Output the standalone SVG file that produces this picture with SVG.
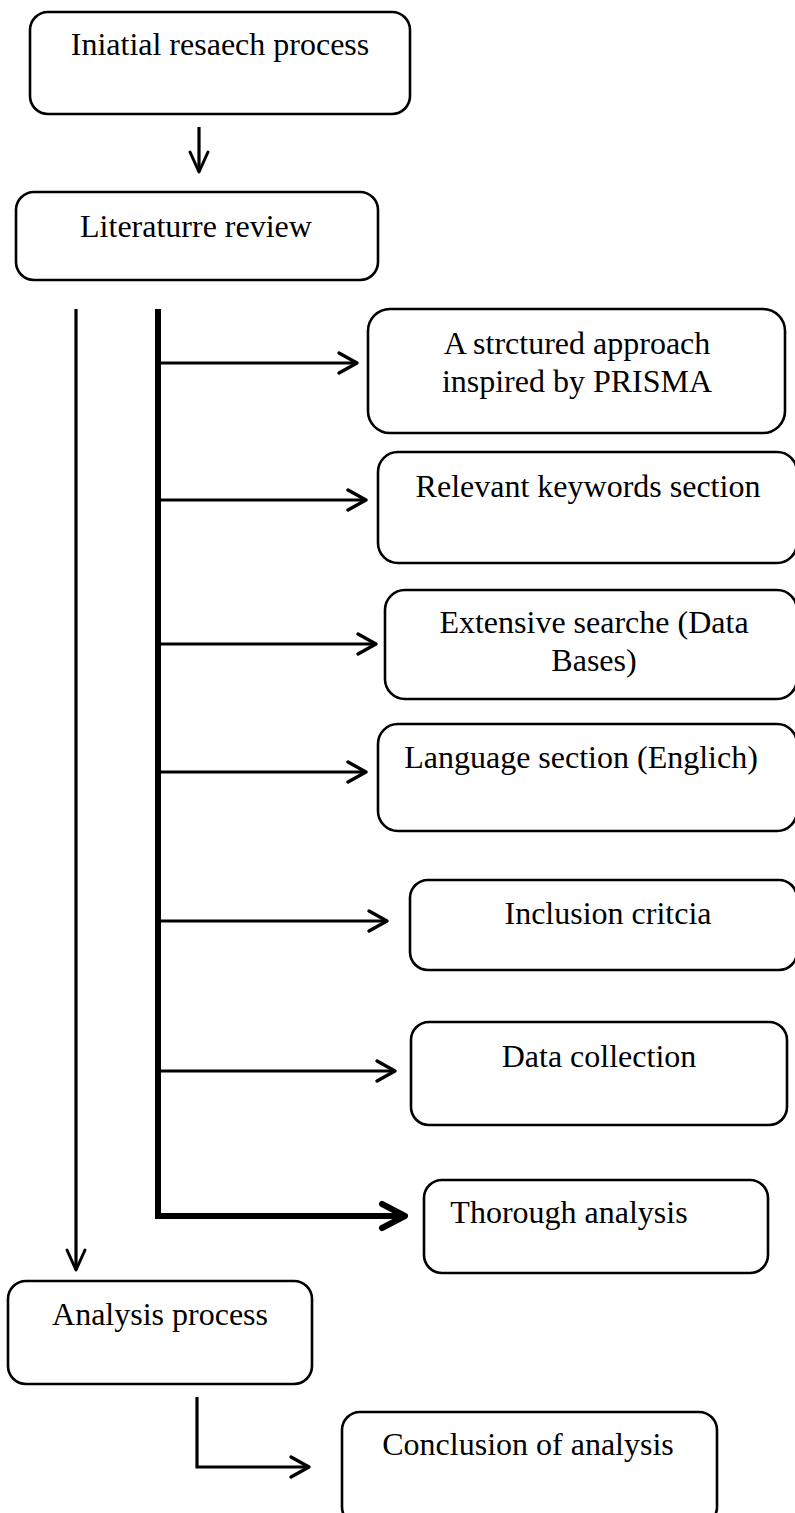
<svg xmlns="http://www.w3.org/2000/svg" width="795" height="1513" viewBox="0 0 795 1513">
<style>
.box{fill:#fff;stroke:#000;stroke-width:2.6}
.lbl{font-family:"Liberation Serif","Times New Roman",serif;font-size:32px;fill:#000;text-anchor:middle}
.ln{fill:none;stroke:#000;stroke-width:3.2}
.thick{fill:none;stroke:#000;stroke-width:6}
</style>
<defs>
<marker id="arr" markerUnits="userSpaceOnUse" viewBox="-24 -14 28 28" markerWidth="28" markerHeight="28" refX="0" refY="0" orient="auto" overflow="visible">
<path d="M-18,-10 L0,0 L-18,10" fill="none" stroke="#000" stroke-width="3.4" stroke-linecap="round" stroke-linejoin="round"/>
</marker>
<marker id="arrV" markerUnits="userSpaceOnUse" viewBox="-24 -14 28 28" markerWidth="28" markerHeight="28" refX="0" refY="0" orient="auto" overflow="visible">
<path d="M-20,-9 L0,0 L-20,9" fill="none" stroke="#000" stroke-width="3" stroke-linecap="round" stroke-linejoin="round"/>
</marker>
<marker id="arrT" markerUnits="userSpaceOnUse" viewBox="-30 -16 34 32" markerWidth="34" markerHeight="32" refX="0" refY="0" orient="auto" overflow="visible">
<path d="M-23,-12 L0,0 L-23,12" fill="none" stroke="#000" stroke-width="6" stroke-linecap="round" stroke-linejoin="round"/>
</marker>
</defs>

<g id="connectors">
<line class="ln" x1="199" y1="127" x2="199" y2="172" marker-end="url(#arrV)"/>
<line class="ln" x1="76" y1="309" x2="76" y2="1270" marker-end="url(#arrV)"/>
<path class="thick" d="M158,309 V1216 H405" marker-end="url(#arrT)"/>
<line class="ln" x1="158" y1="363" x2="357" y2="363" marker-end="url(#arr)"/>
<line class="ln" x1="158" y1="500" x2="366" y2="500" marker-end="url(#arr)"/>
<line class="ln" x1="158" y1="644" x2="376" y2="644" marker-end="url(#arr)"/>
<line class="ln" x1="158" y1="772" x2="366" y2="772" marker-end="url(#arr)"/>
<line class="ln" x1="158" y1="921" x2="387" y2="921" marker-end="url(#arr)"/>
<line class="ln" x1="158" y1="1071" x2="395" y2="1071" marker-end="url(#arr)"/>
<path class="ln" d="M197,1397 V1467 H309" marker-end="url(#arr)"/>
</g>

<g id="initial">
<rect class="box" x="30" y="12" width="380" height="102" rx="18"/>
<text class="lbl" x="220" y="55">Iniatial resaech process</text>
</g>
<g id="literature">
<rect class="box" x="16" y="192" width="362" height="88" rx="18"/>
<text class="lbl" x="196" y="237">Literaturre review</text>
</g>
<g id="prisma">
<rect class="box" x="368" y="309" width="417" height="124" rx="22"/>
<text class="lbl" x="577" y="354">A strctured approach</text>
<text class="lbl" x="577" y="392">inspired by PRISMA</text>
</g>
<g id="keywords">
<rect class="box" x="378" y="452" width="419" height="111" rx="20"/>
<text class="lbl" x="588" y="497">Relevant keywords section</text>
</g>
<g id="search">
<rect class="box" x="385" y="590" width="412" height="109" rx="20"/>
<text class="lbl" x="594" y="633">Extensive searche (Data</text>
<text class="lbl" x="594" y="671">Bases)</text>
</g>
<g id="language">
<rect class="box" x="378" y="724" width="419" height="107" rx="20"/>
<text class="lbl" x="581" y="768">Language section (Englich)</text>
</g>
<g id="inclusion">
<rect class="box" x="410" y="880" width="387" height="90" rx="18"/>
<text class="lbl" x="608" y="924">Inclusion critcia</text>
</g>
<g id="datacollection">
<rect class="box" x="411" y="1022" width="376" height="103" rx="18"/>
<text class="lbl" x="599" y="1067">Data collection</text>
</g>
<g id="thorough">
<rect class="box" x="424" y="1180" width="344" height="93" rx="18"/>
<text class="lbl" x="569" y="1223">Thorough analysis</text>
</g>
<g id="analysis">
<rect class="box" x="8" y="1281" width="304" height="103" rx="18"/>
<text class="lbl" x="160" y="1325">Analysis process</text>
</g>
<g id="conclusion">
<rect class="box" x="342" y="1412" width="375" height="113" rx="18"/>
<text class="lbl" x="528" y="1455">Conclusion of analysis</text>
</g>
</svg>
